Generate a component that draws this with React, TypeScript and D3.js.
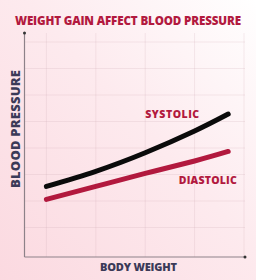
import * as d3 from "d3";

// body weight (arbitrary units) and blood pressure readings
const weight = [1, 2, 3, 4, 4.68];
const systolic = [2.55, 3.12, 3.82, 4.64, 5.28];
const diastolic = [2.06, 2.55, 3.04, 3.51, 3.87];

const gridX = [1, 2, 3, 4, 5];
const gridY = [1, 2, 3, 4, 5, 6, 7, 8];

const title = "WEIGHT GAIN AFFECT BLOOD PRESSURE";
const xLabel = "BODY WEIGHT";
const yLabel = "BLOOD PRESSURE";

const W = 256;
const H = 280;
const axisX = 24.5;
const axisY = 257;

const crimson = "#b2193e";
const navy = "#3b3a58";

export default function App() {
  const xScale = d3.scaleLinear().domain([0, 5]).range([-3, 244]);
  const yScale = d3.scaleLinear().domain([0, 8]).range([254, 42]);

  const line = d3
    .line<number>()
    .x((_, i) => xScale(weight[i]))
    .y((d) => yScale(d))
    .curve(d3.curveNatural);

  return (
    <svg
      width={W}
      height={H}
      style={{ position: "absolute", left: 0, top: 0 }}
      fontFamily="'Open Sans', sans-serif"
    >
      <defs>
        <linearGradient id="bg" x1="0" y1="1" x2="1" y2="0">
          <stop offset="0" stopColor="#fbd9e0" />
          <stop offset="0.55" stopColor="#fdeaee" />
          <stop offset="1" stopColor="#ffffff" />
        </linearGradient>
      </defs>
      <rect width={W} height={H} fill="url(#bg)" />

      <text
        x={15}
        y={24.5}
        fontSize={11.6}
        fontWeight={800}
        fill={crimson}
        textLength={226}
        lengthAdjust="spacing"
      >
        {title}
      </text>

      {/* grid */}
      <g stroke="#c9a3ad" strokeOpacity={0.2} strokeWidth={1}>
        {gridX.map((v) => (
          <line key={"gx" + v} x1={xScale(v)} x2={xScale(v)} y1={33} y2={axisY} />
        ))}
        {gridY.map((v) => (
          <line key={"gy" + v} x1={axisX} x2={245} y1={yScale(v)} y2={yScale(v)} />
        ))}
      </g>

      {/* axes */}
      <g stroke="#8d8189" strokeWidth={1.2}>
        <line x1={axisX} x2={axisX} y1={33} y2={axisY} />
        <line x1={axisX} x2={245} y1={axisY} y2={axisY} />
      </g>
      <circle cx={axisX} cy={33} r={1.5} fill="#333" />
      <circle cx={245} cy={axisY} r={1.5} fill="#333" />

      <path
        d={line(diastolic) ?? ""}
        fill="none"
        stroke={crimson}
        strokeWidth={5}
        strokeLinecap="round"
      />
      <path
        d={line(systolic) ?? ""}
        fill="none"
        stroke="#0b0b0b"
        strokeWidth={5}
        strokeLinecap="round"
      />

      <text
        x={xScale(3)}
        y={yScale(5.12)}
        fontSize={10.5}
        fontWeight={800}
        fill={crimson}
        textLength={54}
        lengthAdjust="spacing"
      >
        SYSTOLIC
      </text>
      <text
        x={xScale(3.68)}
        y={yScale(2.64)}
        fontSize={10.5}
        fontWeight={800}
        fill={crimson}
        textLength={58}
        lengthAdjust="spacing"
      >
        DIASTOLIC
      </text>

      <text
        x={100}
        y={271}
        fontSize={11}
        fontWeight={800}
        fill={navy}
        textLength={77}
        lengthAdjust="spacing"
      >
        {xLabel}
      </text>
      <text
        transform="translate(20,188) rotate(-90)"
        fontSize={13}
        fontWeight={800}
        fill={navy}
        textLength={118}
        lengthAdjust="spacing"
      >
        {yLabel}
      </text>
    </svg>
  );
}
